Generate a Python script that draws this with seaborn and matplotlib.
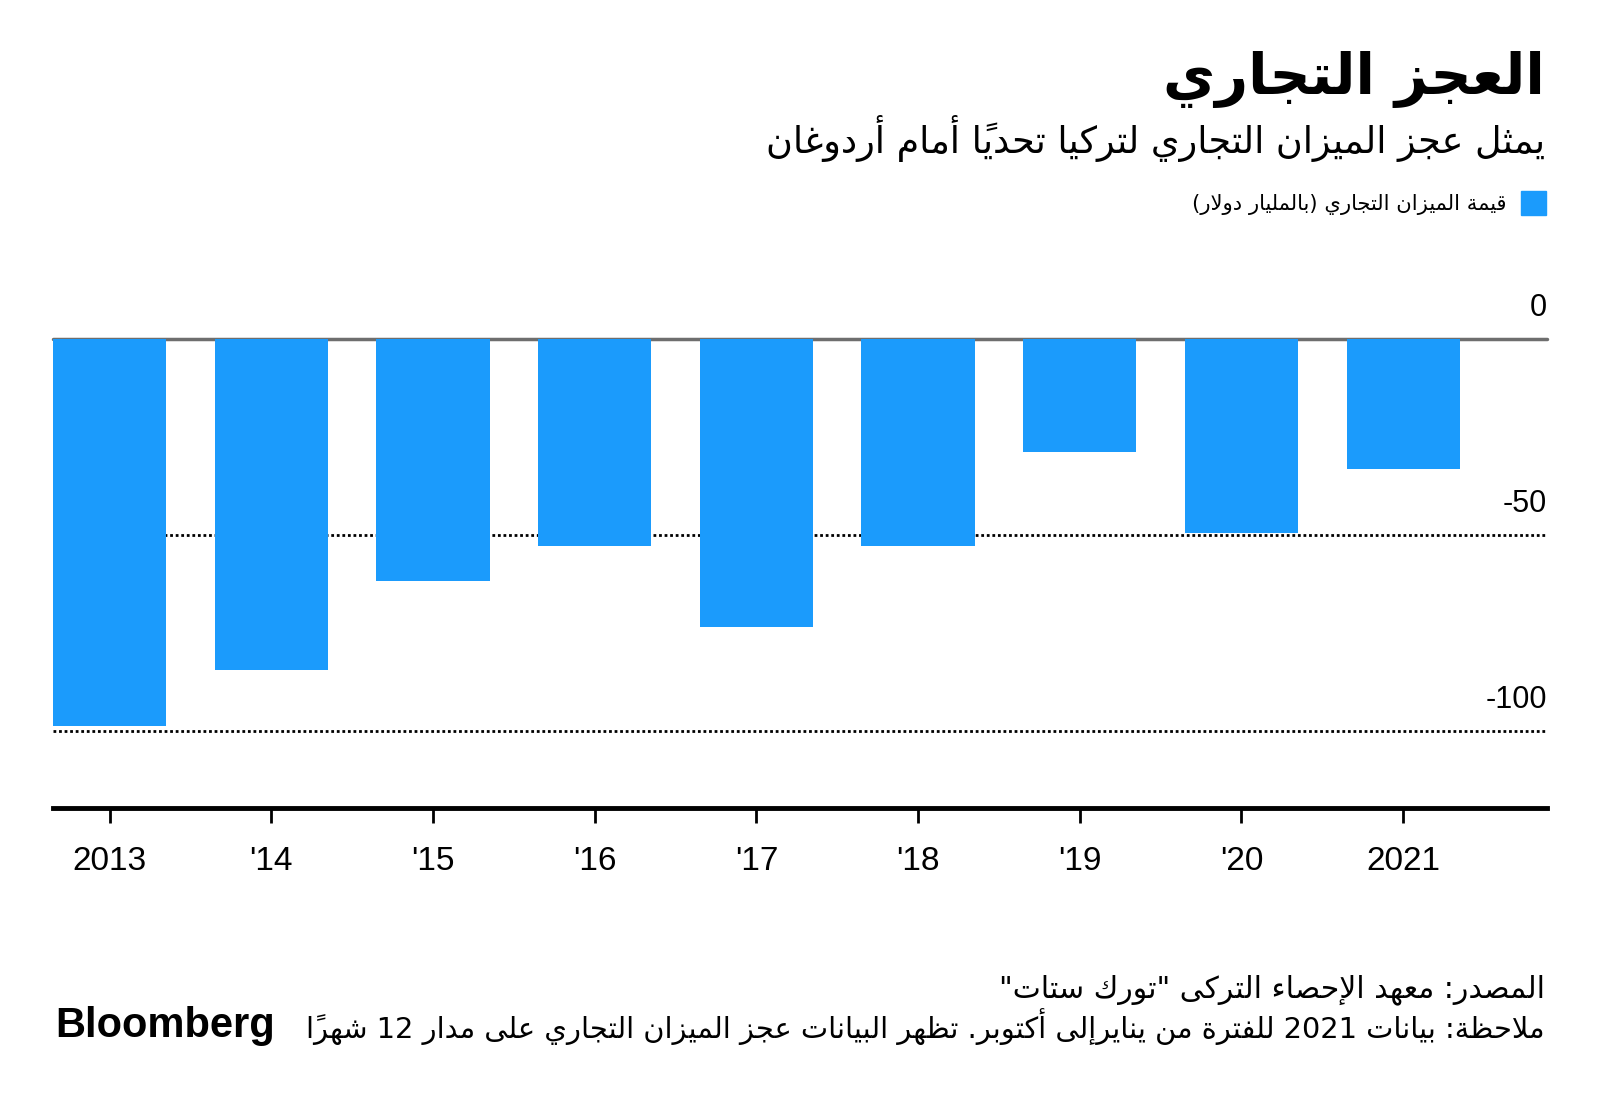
import numpy as np
import pandas as pd
import seaborn as sns
import matplotlib.pyplot as plt
import matplotlib.transforms as mtransforms

# data
years = ['2013', "'14", "'15", "'16", "'17", "'18", "'19", "'20", '2021']
balance = [-98.8, -84.4, -61.7, -52.9, -73.5, -52.9, -28.7, -49.5, -33.1]
y_ticks = [0, -50, -100]
y_tick_labels = ['0', '-50', '-100']

title = 'العجز التجاري'
subtitle = 'يمثل عجز الميزان التجاري لتركيا تحدياً أمام أردوغان'
legend_label = 'قيمة الميزان التجاري (بالمليار دولار)'
source = 'المصدر: معهد الإحصاء التركى "تورك ستات"'
note = 'ملاحظة: بيانات 2021 للفترة من ينايرإلى أكتوبر. تظهر البيانات عجز الميزان التجاري على مدار 12 شهراً'

BLUE = '#1b9bfc'

# matplotlib has no arabic shaping/bidi, so do a small version by hand
DUAL = dict(zip('ئبتثجحخسشصضطظعغفقكلمنهي',
                [0xFE89, 0xFE8F, 0xFE95, 0xFE99, 0xFE9D, 0xFEA1, 0xFEA5, 0xFEB1,
                 0xFEB5, 0xFEB9, 0xFEBD, 0xFEC1, 0xFEC5, 0xFEC9, 0xFECD, 0xFED1,
                 0xFED5, 0xFED9, 0xFEDD, 0xFEE1, 0xFEE5, 0xFEE9, 0xFEF1]))
RIGHT = dict(zip('آأؤإاةدذرزوى',
                 [0xFE81, 0xFE83, 0xFE85, 0xFE87, 0xFE8D, 0xFE93, 0xFEA9, 0xFEAB,
                  0xFEAD, 0xFEAF, 0xFEED, 0xFEEF]))
LAMALEF = {'آ': 0xFEF5, 'أ': 0xFEF7, 'إ': 0xFEF9, 'ا': 0xFEFB}
MARKS = set(chr(c) for c in range(0x064B, 0x0653))


def jtype(c):
    if isinstance(c, tuple) or c in RIGHT:
        return 'R'
    if c in DUAL:
        return 'D'
    if c == 'ء':
        return 'U'
    return None


def ar(text):
    units = []
    i = 0
    while i < len(text):
        ch = text[i]
        if ch in MARKS and units:
            units[-1][1] += ch
        elif ch == 'ل' and i + 1 < len(text) and text[i + 1] in LAMALEF:
            units.append([('LA', text[i + 1]), ''])
            i += 1
        else:
            units.append([ch, ''])
        i += 1

    shaped = []
    for k, (c, marks) in enumerate(units):
        t = jtype(c)
        if t is None:
            shaped.append(c + marks)
            continue
        jp = k > 0 and jtype(units[k - 1][0]) == 'D' and t in 'DR'
        jn = k + 1 < len(units) and jtype(units[k + 1][0]) in ('D', 'R') and t == 'D'
        if t == 'U':
            g = 0xFE80
        elif isinstance(c, tuple):
            g = LAMALEF[c[1]] + (1 if jp else 0)
        elif t == 'R':
            g = RIGHT[c] + (1 if jp else 0)
        else:
            g = DUAL[c] + (3 if jp and jn else 1 if jp else 2 if jn else 0)
        shaped.append(chr(g) + marks)

    # simple bidi: reverse, keep ascii letter/digit runs left to right
    groups = []
    for s in shaped:
        ltr = s.isascii() and s.isalnum()
        if ltr and groups and groups[-1][0]:
            groups[-1][1].append(s)
        else:
            groups.append([ltr, [s]])
    mirror = {'(': ')', ')': '('}
    out = []
    for ltr, parts in reversed(groups):
        if ltr:
            out.append(''.join(parts))
        else:
            out.append(''.join(mirror.get(p, p) for p in reversed(parts)))
    return ''.join(out)


sns.set_style('white')
plt.rcParams['font.family'] = ['Liberation Sans', 'DejaVu Sans']
plt.rcParams['text.color'] = 'black'
plt.rcParams['xtick.color'] = 'black'

df = pd.DataFrame({'year': years, 'balance': balance})

fig = plt.figure(figsize=(16, 11.09), dpi=100)
ax = fig.add_axes([53 / 1600, 1 - 808 / 1109, 1494 / 1600, (808 - 339) / 1109])

sns.barplot(data=df, x='year', y='balance', order=years, color=BLUE,
            saturation=1, width=0.7, linewidth=0, ax=ax, zorder=3)

ax.set_xlim(-0.35, 8.89)
ax.set_ylim(-119.6, 0)

# zero line and dotted gridlines
ax.axhline(0, color='#6e6e6e', lw=2.5, zorder=2, clip_on=False)
for v in y_ticks[1:]:
    ax.axhline(v, color='black', lw=2, ls=(0, (1, 1)), zorder=1)

lab_tr = mtransforms.offset_copy(ax.get_yaxis_transform(), fig=fig, y=16.5, units='points')
for v, lab in zip(y_ticks, y_tick_labels):
    ax.text(1.0, v, lab, transform=lab_tr, ha='right', va='baseline',
            fontsize=22, color='black')

ax.set_yticks([])
ax.set_xlabel('')
ax.set_ylabel('')
for s in ['top', 'right', 'left']:
    ax.spines[s].set_visible(False)
ax.spines['bottom'].set_linewidth(3.5)
ax.spines['bottom'].set_color('black')
ax.tick_params(axis='x', length=11, width=2, color='black', pad=16,
               labelsize=24, labelcolor='black', bottom=True)

# header
fig.text(1545 / 1600, 1 - 94 / 1109, ar(title), ha='right', va='baseline',
         fontsize=41, fontweight='bold', family=['DejaVu Sans'])
fig.text(1545 / 1600, 1 - 153 / 1109, ar(subtitle), ha='right', va='baseline',
         fontsize=26.3, family=['DejaVu Sans'])
fig.patches.append(plt.Rectangle((1521 / 1600, 1 - 215 / 1109), 25 / 1600, 24 / 1109,
                                 transform=fig.transFigure, color=BLUE))
fig.text(1507 / 1600, 1 - 210 / 1109, ar(legend_label), ha='right', va='baseline',
         fontsize=15.2, family=['DejaVu Sans'])

# footer
fig.text(1545 / 1600, 1 - 997 / 1109, ar(source), ha='right', va='baseline',
         fontsize=21.5, family=['DejaVu Sans'])
fig.text(1545 / 1600, 1 - 1038 / 1109, ar(note), ha='right', va='baseline',
         fontsize=20.8, family=['DejaVu Sans'])
fig.text(55 / 1600, 1 - 1037 / 1109, 'Bloomberg', ha='left', va='baseline',
         fontsize=30, fontweight='heavy', color='black')

fig.savefig('out.png', dpi=100, facecolor='white')
